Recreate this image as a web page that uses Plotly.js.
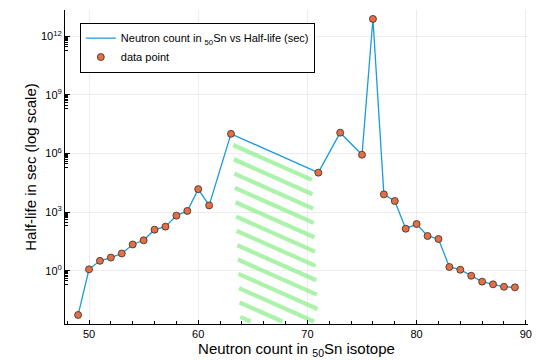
<!DOCTYPE html>
<html>
<head>
<meta charset="utf-8">
<script src="https://cdn.plot.ly/plotly-3.0.1.min.js"></script>
<style>html,body{margin:0;padding:0;background:#fff}#chart{width:540px;height:360px}</style>
</head>
<body>
<div id="chart"></div>
<script>
// Neutron count N for tin (Z=50) isotopes and their half-lives in seconds
const neutrons = [49,50,51,52,53,54,55,56,57,58,59,60,61,63,71,73,75,76,77,78,79,80,81,82,83,84,85,86,87,88,89];
const halfLife = [0.0054,1.17,3.2,4.7,7.6,22,36,126,180,660,1150,15000,2200,1.02e7,1.05e5,1.17e7,8.7e5,7.8e12,8100,3700,141,245,60,42,1.55,1.12,0.55,0.275,0.2,0.15,0.14];

const xTickVals = [50,60,70,80,90];
const yTickVals = [1,1e3,1e6,1e9,1e12];
const yTickText = ['10<sup>0</sup>','10<sup>3</sup>','10<sup>6</sup>','10<sup>9</sup>','10<sup>12</sup>'];

// green hand-drawn hatching over the stable-isotope gap (N 63..71)
const hatchFrom = 63, hatchTo = 71;           // the blue segment it follows
const hatchLeftX = [63.2, 63.85];             // left end of first / last stripe
const hatchRightX = [70.4, 71.1];             // right end of first / last stripe
const hatchCount = 13;
const hatchGap = 0.72;                        // decades between stripes
const hatchOffset = 0.52;                     // decades below the blue line
const hatchFloor = -2.6;                      // log10 bottom clip

const FONT = 'Liberation Sans, Arial, sans-serif';

const yA = Math.log10(halfLife[neutrons.indexOf(hatchFrom)]);
const yB = Math.log10(halfLife[neutrons.indexOf(hatchTo)]);
const slope = (yB - yA) / (hatchTo - hatchFrom);
const hx = [], hy = [];
for (let k = 0; k < hatchCount; k++) {
  const t = k / (hatchCount - 1);
  const x0 = hatchLeftX[0] + t * (hatchLeftX[1] - hatchLeftX[0]);
  let x1 = hatchRightX[0] + t * (hatchRightX[1] - hatchRightX[0]);
  const f = x => yA + (x - hatchFrom) * slope - hatchOffset - k * hatchGap;
  let y0 = f(x0), y1 = f(x1);
  if (y1 < hatchFloor) { x1 = x0 + (hatchFloor - y0) / slope; y1 = hatchFloor; }
  if (x1 <= x0) continue;
  hx.push(x0, x1, null);
  hy.push(Math.pow(10, y0), Math.pow(10, y1), null);
}

const yMinor = [];
[0,3,6,9,12].forEach(e => { for (let m = 2; m <= 9; m++) yMinor.push(m * Math.pow(10, e - 1)); });

const traces = [
  {x: hx, y: hy, mode: 'lines', showlegend: false, hoverinfo: 'skip',
   line: {color: 'rgba(135,236,135,0.7)', width: 4.2}},
  {x: neutrons, y: halfLife, mode: 'lines', name: 'Neutron count in <sub>50</sub>Sn vs Half-life (sec)',
   line: {color: '#1a9bdc', width: 1.3}},
  {x: neutrons, y: halfLife, mode: 'markers', name: 'data point',
   marker: {color: '#e26f46', size: 7, line: {color: '#3a2a22', width: 0.8}}}
];

const layout = {
  width: 540, height: 360,
  margin: {l: 65, r: 12, t: 10, b: 36},
  paper_bgcolor: '#fff', plot_bgcolor: '#fff',
  font: {family: FONT, color: '#000', size: 11},
  showlegend: true,
  legend: {x: 0.032, y: 0.96, xanchor: 'left', yanchor: 'top',
           bordercolor: '#000', borderwidth: 1, bgcolor: '#fff',
           font: {family: FONT, size: 11, color: '#000'}, tracegroupgap: 0},
  xaxis: {
    range: [47.8, 90.2], tickmode: 'array', tickvals: xTickVals,
    ticks: 'inside', ticklen: 4, tickcolor: '#000', showline: true, linecolor: '#000', linewidth: 1,
    zeroline: false, showgrid: true, gridcolor: 'rgba(0,0,0,0.07)', gridwidth: 1,
    minor: {tickmode: 'linear', tick0: 50, dtick: 2, ticks: 'inside', ticklen: 3, tickcolor: '#000', showgrid: false},
    tickfont: {family: FONT, size: 11, color: '#000'},
    title: {text: 'Neutron count in <sub>50</sub>Sn isotope', font: {family: FONT, size: 15, color: '#000'}, standoff: 4}
  },
  yaxis: {
    type: 'log', range: [-2.73, 13.35], tickmode: 'array', tickvals: yTickVals, ticktext: yTickText,
    ticks: 'inside', ticklen: 5, tickcolor: '#000', showline: true, linecolor: '#000', linewidth: 1,
    zeroline: false, showgrid: true, gridcolor: 'rgba(0,0,0,0.07)', gridwidth: 1,
    minor: {tickmode: 'array', tickvals: yMinor, ticks: 'inside', ticklen: 3, tickcolor: '#000', showgrid: false},
    tickfont: {family: FONT, size: 11, color: '#000'},
    title: {text: 'Half-life in sec (log scale)', font: {family: FONT, size: 15, color: '#000'}, standoff: 0}
  }
};

Plotly.newPlot('chart', traces, layout, {displayModeBar: false, staticPlot: true});
</script>
</body>
</html>
